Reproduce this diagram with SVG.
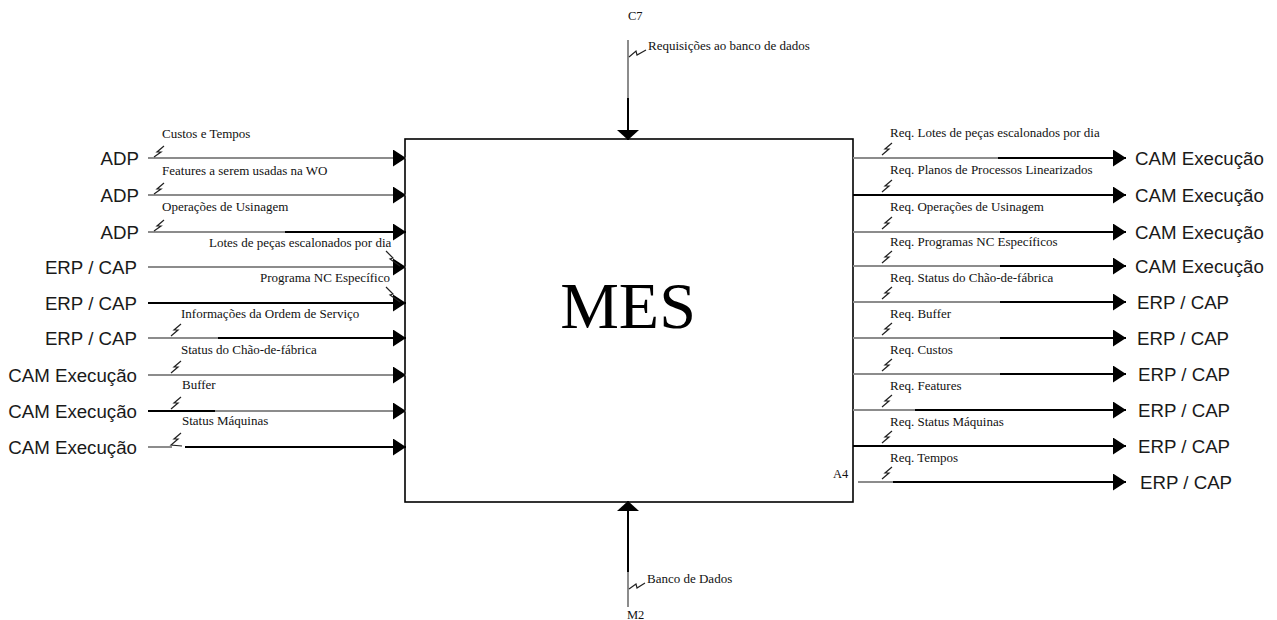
<svg xmlns="http://www.w3.org/2000/svg" width="1277" height="620" viewBox="0 0 1277 620">
  <style>
    .box { fill: #ffffff; stroke: #000000; stroke-width: 1.6; }
    .title { font-family: "Liberation Serif", "Times New Roman", serif; font-size: 66px; fill: #000000; }
    .ext { font-family: "Liberation Sans", Arial, sans-serif; font-size: 18.7px; fill: #1a1a1a; }
    .lbl { font-family: "Liberation Serif", "Times New Roman", serif; font-size: 13px; fill: #111111; }
    .code { font-family: "Liberation Serif", "Times New Roman", serif; font-size: 12.5px; fill: #111111; }
    .g { stroke: #8c8c8c; stroke-width: 2; fill: none; }
    .k { stroke: #000000; stroke-width: 2; fill: none; }
    .sq { stroke: #222222; stroke-width: 1.2; fill: none; stroke-linejoin: miter; }
  </style>
  <defs>
    <marker id="arrH" markerUnits="userSpaceOnUse" markerWidth="13" markerHeight="17" viewBox="0 0 13 17" refX="13" refY="8.5" orient="auto">
      <path d="M0,0 L13,8.5 L0,17 Z" fill="#000000"/>
    </marker>
    <marker id="arrV" markerUnits="userSpaceOnUse" markerWidth="10" markerHeight="22" viewBox="0 0 10 22" refX="10" refY="11" orient="auto">
      <path d="M0,0 L10,11 L0,22 Z" fill="#000000"/>
    </marker>
  </defs>

  <!-- activity box -->
  <g id="node-mes">
    <rect class="box" x="405" y="139" width="448" height="363"/>
    <text class="title" x="628" y="328" text-anchor="middle">MES</text>
    <text class="code" x="833" y="478">A4</text>
  </g>

  <!-- input sources -->
  <g id="node-in-1"><text class="ext" x="139" y="165" text-anchor="end">ADP</text></g>
  <g id="node-in-2"><text class="ext" x="139" y="202" text-anchor="end">ADP</text></g>
  <g id="node-in-3"><text class="ext" x="139" y="239" text-anchor="end">ADP</text></g>
  <g id="node-in-4"><text class="ext" x="137" y="274" text-anchor="end">ERP / CAP</text></g>
  <g id="node-in-5"><text class="ext" x="137" y="310" text-anchor="end">ERP / CAP</text></g>
  <g id="node-in-6"><text class="ext" x="137" y="345" text-anchor="end">ERP / CAP</text></g>
  <g id="node-in-7"><text class="ext" x="137" y="382" text-anchor="end">CAM Execução</text></g>
  <g id="node-in-8"><text class="ext" x="137" y="418" text-anchor="end">CAM Execução</text></g>
  <g id="node-in-9"><text class="ext" x="137" y="454" text-anchor="end">CAM Execução</text></g>

  <!-- output destinations -->
  <g id="node-out-1"><text class="ext" x="1135" y="165">CAM Execução</text></g>
  <g id="node-out-2"><text class="ext" x="1135" y="202">CAM Execução</text></g>
  <g id="node-out-3"><text class="ext" x="1135" y="239">CAM Execução</text></g>
  <g id="node-out-4"><text class="ext" x="1135" y="273">CAM Execução</text></g>
  <g id="node-out-5"><text class="ext" x="1137" y="309">ERP / CAP</text></g>
  <g id="node-out-6"><text class="ext" x="1137" y="345">ERP / CAP</text></g>
  <g id="node-out-7"><text class="ext" x="1138" y="381">ERP / CAP</text></g>
  <g id="node-out-8"><text class="ext" x="1138" y="417">ERP / CAP</text></g>
  <g id="node-out-9"><text class="ext" x="1138" y="453">ERP / CAP</text></g>
  <g id="node-out-10"><text class="ext" x="1140" y="489">ERP / CAP</text></g>

  <!-- control and mechanism ends -->
  <g id="node-c7"><text class="code" x="628" y="20">C7</text></g>
  <g id="node-m2"><text class="code" x="627" y="619">M2</text></g>

  <g id="connectors">
    <!-- inputs -->
    <path class="g" d="M148,158 H406" marker-end="url(#arrH)"/>
    <path class="sq" d="M164,146 L157,152 L161,152 L154,157"/>
    <text class="lbl" x="162" y="138">Custos e Tempos</text>

    <path class="g" d="M148,195 H406" marker-end="url(#arrH)"/>
    <path class="sq" d="M164,183 L157,189 L161,189 L154,194"/>
    <text class="lbl" x="162" y="175">Features a serem usadas na WO</text>

    <path class="g" d="M148,232 H285"/>
    <path class="k" d="M285,232 H406" marker-end="url(#arrH)"/>
    <path class="sq" d="M164,220 L157,226 L161,226 L154,231"/>
    <text class="lbl" x="162" y="211">Operações de Usinagem</text>

    <path class="g" d="M148,267 H406" marker-end="url(#arrH)"/>
    <path class="sq" d="M386,251 L393,258 L390,259 L400,266"/>
    <text class="lbl" x="209" y="247">Lotes de peças escalonados por dia</text>

    <path class="k" d="M148,303 H406" marker-end="url(#arrH)"/>
    <path class="sq" d="M386,287 L393,294 L390,295 L400,302"/>
    <text class="lbl" x="260" y="282">Programa NC Específico</text>

    <path class="g" d="M148,338 H218"/>
    <path class="k" d="M218,338 H406" marker-end="url(#arrH)"/>
    <path class="sq" d="M181,324 L174,330 L178,330 L171,336"/>
    <text class="lbl" x="181" y="318">Informações da Ordem de Serviço</text>

    <path class="g" d="M148,375 H406" marker-end="url(#arrH)"/>
    <path class="sq" d="M181,361 L174,367 L178,367 L171,373"/>
    <text class="lbl" x="181" y="354">Status do Chão-de-fábrica</text>

    <path class="k" d="M148,411 H215"/>
    <path class="g" d="M215,411 H406" marker-end="url(#arrH)"/>
    <path class="sq" d="M181,397 L174,403 L178,403 L171,409"/>
    <text class="lbl" x="182" y="389">Buffer</text>

    <path class="g" d="M148,447 H172"/>
    <path class="k" d="M185,447 H406" marker-end="url(#arrH)"/>
    <path class="sq" d="M181,433 L174,439 L178,439 L171,445 L182,446"/>
    <text class="lbl" x="182" y="425">Status Máquinas</text>

    <!-- outputs -->
    <path class="g" d="M853,158 H998"/>
    <path class="k" d="M998,158 H1126" marker-end="url(#arrH)"/>
    <path class="sq" d="M892,143 L885,149 L889,149 L882,155"/>
    <text class="lbl" x="890" y="137">Req. Lotes de peças escalonados por dia</text>

    <path class="k" d="M853,195 H1126" marker-end="url(#arrH)"/>
    <path class="sq" d="M892,180 L885,186 L889,186 L882,192"/>
    <text class="lbl" x="890" y="174">Req. Planos de Processos Linearizados</text>

    <path class="g" d="M853,232 H1000"/>
    <path class="k" d="M1000,232 H1126" marker-end="url(#arrH)"/>
    <path class="sq" d="M892,217 L885,223 L889,223 L882,229"/>
    <text class="lbl" x="890" y="211">Req. Operações de Usinagem</text>

    <path class="g" d="M853,266 H1000"/>
    <path class="k" d="M1000,266 H1126" marker-end="url(#arrH)"/>
    <path class="sq" d="M892,251 L885,257 L889,257 L882,263"/>
    <text class="lbl" x="890" y="246">Req. Programas NC Específicos</text>

    <path class="g" d="M853,302 H1000"/>
    <path class="k" d="M1000,302 H1126" marker-end="url(#arrH)"/>
    <path class="sq" d="M892,287 L885,293 L889,293 L882,299"/>
    <text class="lbl" x="890" y="282">Req. Status do Chão-de-fábrica</text>

    <path class="g" d="M853,338 H1000"/>
    <path class="k" d="M1000,338 H1126" marker-end="url(#arrH)"/>
    <path class="sq" d="M892,323 L885,329 L889,329 L882,335"/>
    <text class="lbl" x="890" y="318">Req. Buffer</text>

    <path class="g" d="M853,374 H1000"/>
    <path class="k" d="M1000,374 H1126" marker-end="url(#arrH)"/>
    <path class="sq" d="M892,359 L885,365 L889,365 L882,371"/>
    <text class="lbl" x="890" y="354">Req. Custos</text>

    <path class="g" d="M853,410 H915"/>
    <path class="k" d="M915,410 H1126" marker-end="url(#arrH)"/>
    <path class="sq" d="M892,395 L885,401 L889,401 L882,407"/>
    <text class="lbl" x="890" y="390">Req. Features</text>

    <path class="k" d="M853,446 H1126" marker-end="url(#arrH)"/>
    <path class="sq" d="M892,431 L885,437 L889,437 L882,443"/>
    <text class="lbl" x="890" y="426">Req. Status Máquinas</text>

    <path class="g" d="M858,482 H893"/>
    <path class="k" d="M893,482 H1126" marker-end="url(#arrH)"/>
    <path class="sq" d="M892,467 L885,473 L889,473 L882,479"/>
    <text class="lbl" x="890" y="462">Req. Tempos</text>

    <!-- control -->
    <path class="g" d="M628,40 V98"/>
    <path class="k" d="M628,98 V140" marker-end="url(#arrV)"/>
    <path class="sq" d="M629,57 L636,51 L637,55 L646,50"/>
    <text class="lbl" x="648" y="50">Requisições ao banco de dados</text>

    <!-- mechanism -->
    <path class="g" d="M628,607 V572"/>
    <path class="k" d="M628,572 V501" marker-end="url(#arrV)"/>
    <path class="sq" d="M629,589 L636,584 L637,588 L645,583"/>
    <text class="lbl" x="647" y="583">Banco de Dados</text>
  </g>
</svg>
